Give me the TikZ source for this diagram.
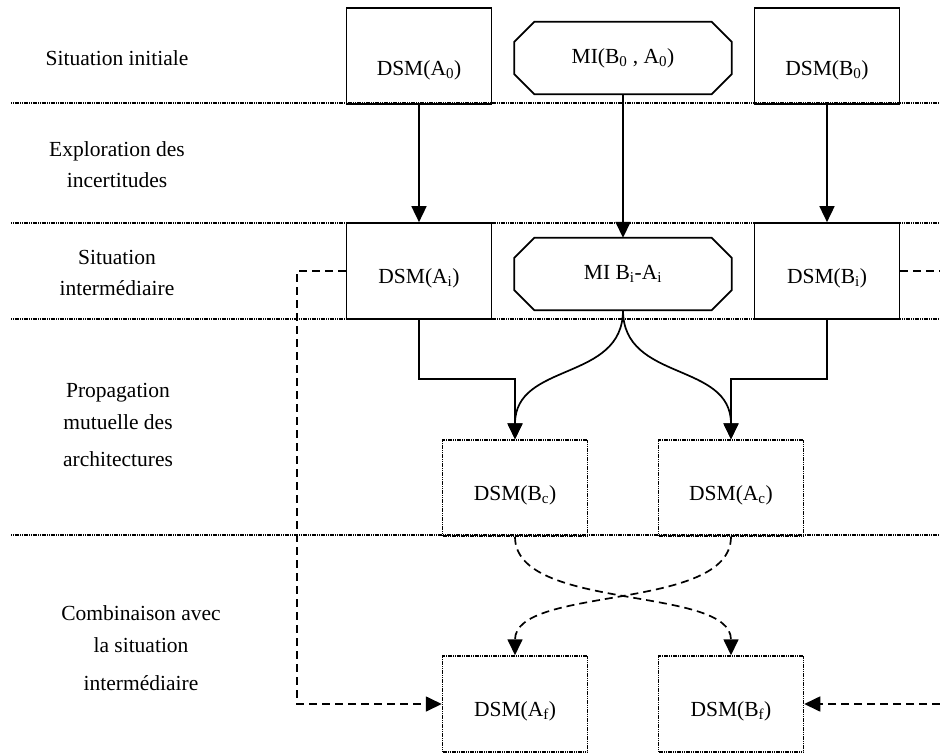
\documentclass[tikz,border=0pt]{standalone}
\usepackage{fontspec}
\setmainfont{Liberation Serif}
\usetikzlibrary{arrows.meta}
\begin{document}
\begin{tikzpicture}[x=1pt,y=-1pt,
  every node/.style={font=\fontsize{21.5}{31}\selectfont, inner sep=0pt},
  box/.style={draw, line width=1.7pt, minimum width=145pt, minimum height=96pt},
  dbox/.style={draw, line width=1.5pt, dash pattern=on 1.2pt off 0.6pt, minimum width=145pt, minimum height=96pt},
  toptext/.style={text height=40pt, text depth=2pt},
  midtext/.style={text height=26pt, text depth=2pt},
  oct/.style={minimum width=217pt, minimum height=72pt},
  octline/.style={line width=1.7pt},
  sep/.style={line width=1.5pt, dash pattern=on 1.2pt off 0.6pt},
  conn/.style={line width=1.7pt, -{Triangle[length=16pt,width=15pt]}},
  dline/.style={line width=1.7pt, dash pattern=on 8pt off 5pt},
  dconn/.style={conn, dash pattern=on 8pt off 5pt},
  lab/.style={align=center}
]
\useasboundingbox (0,0) rectangle (940,753);

% separators
\foreach \yy in {103,223,319,535}{\draw[sep] (11,\yy) -- (940,\yy);}

% labels
\node[lab] (l1) at (117,58) {Situation initiale};
\node[lab] (l2) at (117,165) {Exploration des\\incertitudes};
\node[lab] (l3) at (117,273) {Situation\\intermédiaire};
\node[lab] (l4) at (118,425) {Propagation\\[1pt]mutuelle des\\[6pt]architectures};
\node[lab] (l5) at (141,648) {Combinaison avec\\[1pt]la situation\\[7pt]intermédiaire};

% boxes
\node[box,toptext] (a0) at (419,56) {DSM(A\textsubscript{0})};
\node[oct] (m0) at (623,58) {MI(B\textsubscript{0} , A\textsubscript{0})};
\node[box,toptext] (b0) at (827,56) {DSM(B\textsubscript{0})};
\node[box,midtext] (ai) at (419,271) {DSM(A\textsubscript{i})};
\node[oct] (mi) at (623,274) {MI B\textsubscript{i}-A\textsubscript{i}};
\node[box,midtext] (bi) at (827,271) {DSM(B\textsubscript{i})};
\node[dbox,midtext] (bc) at (515,488) {DSM(B\textsubscript{c})};
\node[dbox,midtext] (ac) at (731,488) {DSM(A\textsubscript{c})};
\node[dbox,midtext] (af) at (515,704) {DSM(A\textsubscript{f})};
\node[dbox,midtext] (bf) at (731,704) {DSM(B\textsubscript{f})};

\foreach \n in {m0,mi}{
  \draw[octline] ([xshift=20pt]\n.north west) -- ([xshift=-20pt]\n.north east)
    -- ([yshift=-20pt]\n.north east) -- ([yshift=20pt]\n.south east)
    -- ([xshift=-20pt]\n.south east) -- ([xshift=20pt]\n.south west)
    -- ([yshift=20pt]\n.south west) -- ([yshift=-20pt]\n.north west) -- cycle;
}

% connectors
\draw[conn] (a0) -- (ai);
\draw[conn] (m0) -- (mi);
\draw[conn] (b0) -- (bi);
\coordinate (k) at (0,379);
\draw[conn] (ai.south) -- (ai.south |- k) -| (bc.north);
\draw[conn] (bi.south) -- (bi.south |- k) -| (ac.north);
\draw[conn] (mi.south) .. controls +(0,72) and +(0,-78) .. (bc.north);
\draw[conn] (mi.south) .. controls +(0,72) and +(0,-78) .. (ac.north);

\draw[dconn] (bc.south) .. controls +(0,75) and +(0,-70) .. (bf.north);
\draw[dconn] (ac.south) .. controls +(0,75) and +(0,-70) .. (af.north);
\coordinate (lx) at (297,271);
\draw[dconn] (ai.west) -- (lx) |- (af.west);
\coordinate (rx) at (940,271);
\draw[dline] (bi.east) -- (rx);
\coordinate (ry) at (940,704);
\draw[dconn] (ry) -- (bf.east);
\end{tikzpicture}
\end{document}
